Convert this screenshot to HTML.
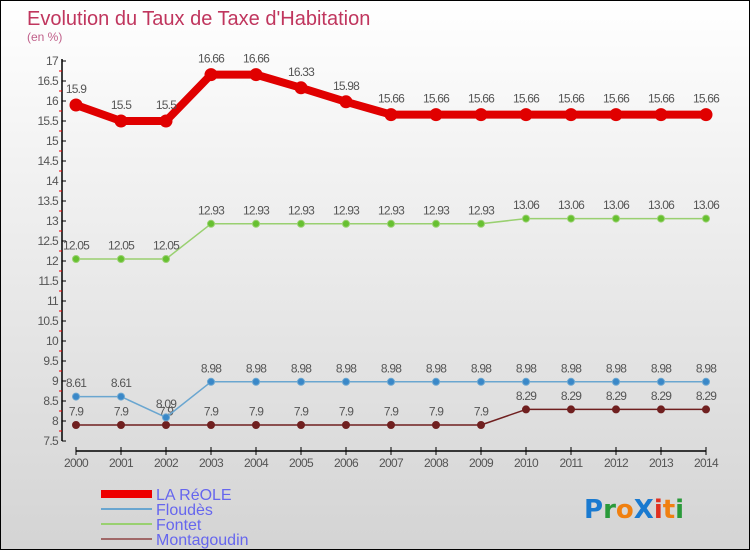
<!DOCTYPE html>
<html><head><meta charset="utf-8"><style>
body{margin:0}
#wrap{width:748px;height:548px;border:1px solid #000;background:linear-gradient(#fff 0%,#f2f2f2 30%,#d4d4d4 100%);position:relative;overflow:hidden;font-family:"Liberation Sans",sans-serif}
</style></head><body>
<div id="wrap">
<svg id="svg" width="748" height="548">
<text x="26" y="24" font-size="20" fill="#c0365e">Evolution du Taux de Taxe d'Habitation</text>
<text x="26" y="40" font-size="12" fill="#c0608a">(en %)</text>
<g id="axes"></g><g id="series"></g>
<g>
<rect x="100" y="489" width="51" height="8" fill="#e00"/>
<text x="155" y="499" font-size="16" fill="#6666ee">LA RéOLE</text>
<line x1="100" y1="508" x2="151" y2="508" stroke="#6aa6d0" stroke-width="2"/>
<text x="155" y="514" font-size="16" fill="#6666ee">Floudès</text>
<line x1="100" y1="523" x2="151" y2="523" stroke="#99d070" stroke-width="2"/>
<text x="155" y="529" font-size="16" fill="#6666ee">Fontet</text>
<line x1="100" y1="538" x2="151" y2="538" stroke="#a06868" stroke-width="2"/>
<text x="155" y="544" font-size="16" fill="#6666ee">Montagoudin</text>
</g>
<g font-size="26" font-weight="bold" font-family="'DejaVu Sans',sans-serif">
<text x="583" y="517"><tspan fill="#1a7ad0">P</tspan><tspan fill="#2a9a3a">r</tspan><tspan fill="#f08010">o</tspan><tspan fill="#1a7ad0">X</tspan><tspan fill="#e03020">i</tspan><tspan fill="#f08010">t</tspan><tspan fill="#2a9a3a">i</tspan></text>
</g>
</svg></div>
<script>
const years=[2000,2001,2002,2003,2004,2005,2006,2007,2008,2009,2010,2011,2012,2013,2014];
const laReole=[15.9,15.5,15.5,16.66,16.66,16.33,15.98,15.66,15.66,15.66,15.66,15.66,15.66,15.66,15.66];
const floudes=[8.61,8.61,8.09,8.98,8.98,8.98,8.98,8.98,8.98,8.98,8.98,8.98,8.98,8.98,8.98];
const fontet=[12.05,12.05,12.05,12.93,12.93,12.93,12.93,12.93,12.93,12.93,13.06,13.06,13.06,13.06,13.06];
const montagoudin=[7.9,7.9,7.9,7.9,7.9,7.9,7.9,7.9,7.9,7.9,8.29,8.29,8.29,8.29,8.29];
const yTicks=[7.5,8,8.5,9,9.5,10,10.5,11,11.5,12,12.5,13,13.5,14,14.5,15,15.5,16,16.5,17];
const NS="http://www.w3.org/2000/svg";
const xs=i=>75+i*45, ys=v=>60+(17-v)*40;
function mk(p,t,a){const e=document.createElementNS(NS,t);for(const k in a)e.setAttribute(k,a[k]);p.appendChild(e);return e;}
const ax=document.getElementById('axes'),se=document.getElementById('series');
const yl=mk(ax,'line',{x1:61,y1:58,x2:61,y2:440,stroke:'#000','stroke-width':1.5});


yTicks.forEach(v=>{
 mk(ax,'line',{x1:61,y1:ys(v),x2:65,y2:ys(v),stroke:'#000'});
 if(v<17) mk(ax,'line',{x1:58,y1:ys(v)-10,x2:61,y2:ys(v)-10,stroke:'#e00'});
 const t=mk(ax,'text',{x:57,y:ys(v)+4,'font-size':12,fill:'#555','text-anchor':'end','letter-spacing':'-0.7'});t.textContent=String(v);
 
 
});
const xl=mk(ax,'line',{x1:75,y1:450,x2:705,y2:450,stroke:'#000','stroke-width':1.5});


years.forEach((y,i)=>{
 mk(ax,'line',{x1:xs(i),y1:446,x2:xs(i),y2:454,stroke:'#000'});
 const t=mk(ax,'text',{x:xs(i),y:466,'font-size':12,fill:'#555','text-anchor':'middle','letter-spacing':'-0.7'});t.textContent=y;
 
 
});
function series(vals,col,dot,w,r,name){
 const g=mk(se,'g',{});
 
 
 mk(g,'polyline',{points:vals.map((v,i)=>xs(i)+','+ys(v)).join(' '),fill:'none',stroke:col,'stroke-width':w,'stroke-linejoin':'round'});
 vals.forEach((v,i)=>{
  const c=mk(g,'circle',{cx:xs(i),cy:ys(v),r:r,fill:dot,stroke:col,'stroke-width':1});
  
  
  const t=mk(g,'text',{x:xs(i),y:ys(v)-(r+6),'font-size':12,fill:'#555','text-anchor':'middle','letter-spacing':'-0.8'});t.textContent=String(v);
  
  
 });
}
series(montagoudin,'#702020','#702020',1.5,3.5,'montagoudin');
series(floudes,'#6aa6d0','#3a88c8',1.5,3.5,'floudes');
series(fontet,'#99d070','#66c030',1.5,3.5,'fontet');
series(laReole,'#e00000','#e00000',8,6,'la-reole');
</script>
</body></html>
